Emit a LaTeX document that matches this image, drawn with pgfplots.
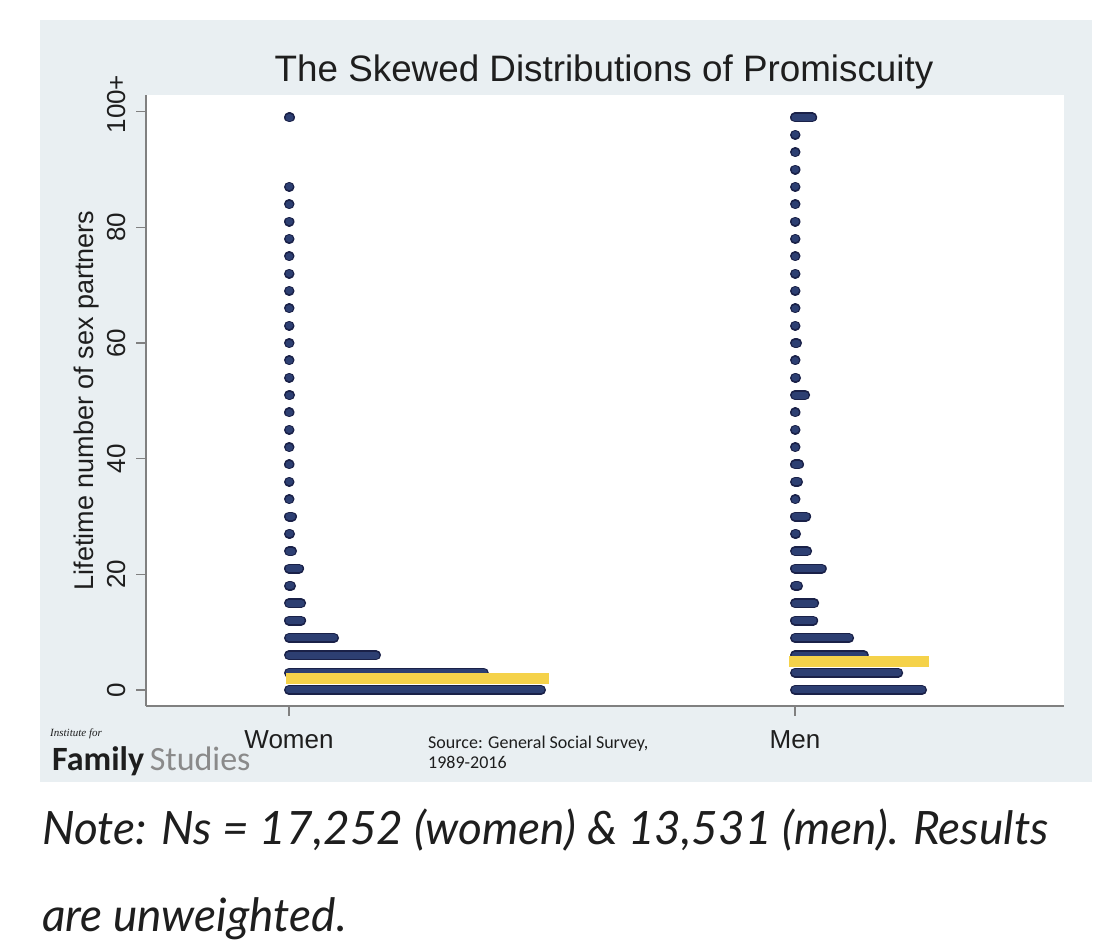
\documentclass[border=0pt]{standalone}
\usepackage{fontspec}
\setmainfont{Liberation Sans}
\newfontfamily\carlito{Carlito}
\newfontfamily\lato{Lato}
\newfontfamily\lserif{Liberation Serif}
\usepackage{pgfplots}
\pgfplotsset{compat=1.18}
\usepackage{pgfplotstable}

\definecolor{bgc}{HTML}{E9EFF2}
\definecolor{navyout}{HTML}{1A2148}
\definecolor{navyin}{HTML}{2D3F72}
\definecolor{gold}{HTML}{F5D24A}
\definecolor{axgray}{HTML}{808080}
\definecolor{txt}{HTML}{1E1E1E}
\definecolor{logogray}{HTML}{8A8A8A}

% rows: bin value y, length of the row of dots (axis units)
\pgfplotstableread{
x y len
0 0 0.498
0 3 0.385
0 6 0.172
0 9 0.089
0 12 0.024
0 15 0.024
0 18 0.004
0 21 0.020
0 24 0.006
0 27 0.002
0 30 0.006
0 33 0.001
0 36 0.001
0 39 0.001
0 42 0.001
0 45 0.001
0 48 0.001
0 51 0.002
0 54 0.001
0 57 0.001
0 60 0.001
0 63 0.001
0 66 0.001
0 69 0.001
0 72 0.001
0 75 0.001
0 78 0.001
0 81 0.001
0 84 0.001
0 87 0.001
0 99 0.002
}\women

\pgfplotstableread{
x y len
1 0 0.251
1 3 0.204
1 6 0.136
1 9 0.107
1 12 0.036
1 15 0.038
1 18 0.006
1 21 0.053
1 24 0.024
1 27 0.002
1 30 0.022
1 33 0.001
1 36 0.006
1 39 0.008
1 42 0.001
1 45 0.001
1 48 0.001
1 51 0.020
1 54 0.002
1 57 0.001
1 60 0.004
1 63 0.001
1 66 0.001
1 69 0.001
1 72 0.001
1 75 0.001
1 78 0.001
1 81 0.001
1 84 0.001
1 87 0.001
1 90 0.001
1 93 0.001
1 96 0.001
1 99 0.034
}\men

\begin{document}
\begin{tikzpicture}
\path[use as bounding box, fill=white] (0bp,0bp) rectangle (1111bp,946bp);
\fill[bgc] (40bp,164bp) rectangle (1092bp,926bp);
\begin{axis}[
  at={(146bp,240bp)}, anchor=south west,
  scale only axis, width=918bp, height=611bp,
  xmin=-0.2826, xmax=1.5316, ymin=-2.767, ymax=102.89,
  axis x line*=bottom, axis y line*=left,
  axis background/.style={fill=white},
  axis line style={axgray, line width=1.6bp},
  tick align=outside, major tick length=10bp,
  tick style={axgray, line width=1.5bp},
  xtick={0,1}, xticklabels={Women,Men},
  ytick={0,20,40,60,80,100}, yticklabels={0,20,40,60,80,100\rlap{+}},
  minor tick num=0,
  /pgf/number format/assume math mode=true,
  tick label style={font=\fontsize{26bp}{30bp}\selectfont, text=txt},
  yticklabel style={rotate=90, anchor=south},
  yticklabel shift=7bp,
  xticklabel shift=11bp,
  ylabel={Lifetime number of sex partners},
  ylabel style={at={(axis description cs:-0.0643,0.5)}, anchor=center, rotate=0, font=\fontsize{27bp}{30bp}\selectfont, text=txt},
]
\addplot[navyout, line width=10bp, line cap=round, mark=none, quiver={u=\thisrow{len}, v=0}] table[x=x, y=y] {\women};
\addplot[navyin, line width=7bp, line cap=round, mark=none, quiver={u=\thisrow{len}, v=0}] table[x=x, y=y] {\women};
\addplot[navyout, line width=10bp, line cap=round, mark=none, quiver={u=\thisrow{len}, v=0}] table[x=x, y=y] {\men};
\addplot[navyin, line width=7bp, line cap=round, mark=none, quiver={u=\thisrow{len}, v=0}] table[x=x, y=y] {\men};
\addplot[gold, line width=11bp, mark=none] coordinates {(-0.005,2) (0.514,2)};
\addplot[gold, line width=11bp, mark=none] coordinates {(0.988,4.9) (1.265,4.9)};
\end{axis}
\node[anchor=base, inner sep=0pt, font=\fontsize{36.8bp}{40bp}\selectfont, text=txt] at (604bp,864bp) {The Skewed Distributions of Promiscuity};
\node[anchor=base west, inner sep=0pt, font=\lserif\itshape\fontsize{11bp}{12bp}\selectfont, text=txt] at (50bp,209bp) {Institute for};
\node[anchor=base west, inner sep=0pt, font=\carlito\fontsize{34bp}{36bp}\selectfont, text=txt] at (52bp,175bp) {\textbf{Family}\,\textcolor{logogray}{Studies}};
\node[anchor=base west, inner sep=0pt, font=\carlito\fontsize{18bp}{20bp}\selectfont, text=txt] at (428bp,197bp) {Source: General Social Survey,};
\node[anchor=base west, inner sep=0pt, font=\carlito\fontsize{18bp}{20bp}\selectfont, text=txt] at (428bp,177bp) {1989-2016};
\node[anchor=base west, inner sep=0pt, font=\lato\itshape\fontsize{46bp}{48bp}\selectfont, text=txt] at (42bp,101bp) {Note: Ns = 17,252 (women) \& 13,531 (men). Results};
\node[anchor=base west, inner sep=0pt, font=\lato\itshape\fontsize{46bp}{48bp}\selectfont, text=txt] at (42bp,15bp) {are unweighted.};
\end{tikzpicture}
\end{document}
